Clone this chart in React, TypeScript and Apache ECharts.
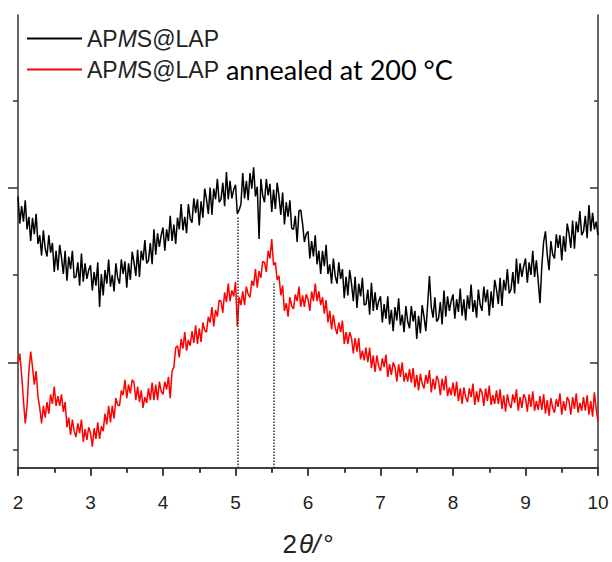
import React, { useEffect, useRef } from "react";
import * as echarts from "echarts";

// x sampling of the scans (2θ, degrees)
const X_START = 2;
const X_STEP = 0.025;

// APMS@LAP (intensity, a.u.), one row per 0.2°
const blackValues: number[] = [
  280, 252, 270, 254, 276, 246, 259, 234,
  258, 241, 262, 231, 240, 219, 245, 226,
  218, 240, 222, 232, 202, 224, 204, 230,
  217, 200, 224, 193, 218, 205, 224, 196,
  197, 212, 188, 221, 192, 211, 195, 204,
  209, 183, 202, 188, 212, 166, 200, 178,
  204, 190, 215, 187, 199, 182, 211, 196,
  190, 215, 200, 213, 186, 211, 194, 223,
  212, 198, 225, 197, 224, 214, 235, 211,
  214, 232, 210, 246, 220, 242, 228, 240,
  248, 224, 246, 234, 260, 234, 251, 231,
  258, 246, 272, 245, 259, 242, 272, 257,
  253, 278, 263, 277, 250, 275, 258, 288,
  277, 262, 289, 261, 288, 277, 298, 274,
  277, 294, 270, 305, 277, 296, 278, 287,
  292, 262, 266, 272, 304, 278, 296, 276,
  304, 288, 310, 280, 290, 236, 298, 281,
  274, 298, 281, 293, 264, 287, 267, 294,
  280, 261, 284, 251, 274, 259, 276, 247,
  246, 260, 233, 265, 266, 252, 233, 241,
  244, 216, 234, 218, 240, 210, 224, 200,
  224, 208, 230, 200, 210, 190, 216, 198,
  190, 212, 195, 205, 175, 197, 178, 204,
  190, 172, 197, 165, 190, 177, 196, 168,
  169, 184, 158, 191, 162, 181, 163, 172,
  177, 150, 169, 154, 177, 148, 163, 141,
  166, 152, 175, 147, 158, 140, 167, 151,
  144, 167, 151, 162, 133, 157, 139, 168,
  156, 141, 168, 198, 166, 155, 176, 151,
  154, 171, 148, 183, 156, 177, 162, 172,
  179, 154, 174, 161, 185, 157, 174, 152,
  178, 164, 189, 161, 173, 155, 184, 168,
  162, 187, 171, 184, 157, 182, 165, 194,
  184, 169, 196, 167, 194, 183, 205, 180,
  184, 202, 180, 216, 190, 211, 197, 208,
  216, 191, 212, 199, 224, 197, 214, 193,
  170, 208, 233, 244, 220, 204, 234, 220,
  216, 241, 227, 240, 214, 239, 223, 252,
  242, 227, 255, 226, 254, 243, 265, 240,
  244, 260, 237, 271, 244, 263, 246, 254,
  240,
];

// APMS@LAP annealed at 200 °C (intensity, a.u.), one row per 0.2°
const redValues: number[] = [
  108, 118, 96, 70, 46, 64, 100, 120,
  104, 86, 100, 74, 62, 46, 64, 52,
  68, 56, 76, 66, 84, 64, 74, 64,
  76, 58, 68, 42, 52, 34, 50, 38,
  32, 46, 36, 50, 27, 40, 29, 42,
  36, 22, 41, 30, 47, 30, 43, 38,
  56, 45, 64, 47, 64, 51, 72, 65,
  64, 80, 75, 91, 72, 86, 77, 91,
  88, 70, 84, 68, 80, 62, 73, 67,
  82, 70, 88, 70, 86, 70, 89, 79,
  76, 89, 81, 94, 72, 100, 104, 124,
  126, 114, 133, 123, 140, 121, 132, 126,
  141, 129, 147, 128, 144, 130, 150, 142,
  140, 156, 150, 166, 146, 163, 156, 173,
  172, 160, 181, 171, 190, 172, 183, 177,
  192, 146, 176, 168, 182, 168, 187, 179,
  176, 193, 188, 205, 186, 203, 196, 213,
  212, 202, 224, 216, 236, 209, 212, 194,
  198, 178, 188, 162, 170, 156, 176, 167,
  164, 179, 172, 187, 166, 178, 166, 179,
  174, 162, 182, 172, 190, 172, 182, 168,
  176, 159, 173, 150, 162, 143, 158, 145,
  138, 150, 140, 152, 128, 140, 128, 140,
  134, 118, 134, 120, 134, 112, 121, 111,
  124, 109, 124, 103, 116, 99, 116, 105,
  100, 113, 104, 117, 94, 107, 96, 109,
  104, 89, 107, 94, 109, 89, 98, 89,
  102, 88, 103, 83, 96, 80, 97, 87,
  82, 96, 87, 101, 78, 92, 81, 95,
  90, 75, 92, 80, 95, 74, 83, 75,
  88, 74, 89, 69, 82, 66, 83, 73,
  68, 82, 73, 87, 65, 79, 68, 82,
  78, 64, 82, 69, 85, 65, 75, 66,
  80, 66, 81, 61, 75, 58, 76, 66,
  62, 76, 67, 81, 59, 73, 62, 76,
  72, 58, 76, 63, 79, 59, 69, 60,
  74, 60, 76, 56, 70, 54, 72, 62,
  57, 71, 63, 77, 55, 69, 59, 73,
  69, 55, 73, 61, 77, 57, 67, 59,
  73, 59, 75, 55, 69, 53, 78, 61,
  48,
];

// dotted reference lines: [2θ, top of the line]
const refLines: [number, number][] = [
  [5.035, 259],
  [5.53, 192],
];

const xTicks = [2, 3, 4, 5, 6, 7, 8, 9, 10];
const yLongTicks = [109, 289];
const yShortTicks = [19, 199, 379];

const NAME_BLACK = "APMS@LAP";
const NAME_RED = "APMS@LAP annealed at 200 °C";

const toPairs = (vals: number[]) =>
  vals.map((v, i) => [+(X_START + i * X_STEP).toFixed(3), v]);

const AXIS_COLOR = "#333";

export default function App() {
  const ref = useRef<HTMLDivElement>(null);

  useEffect(() => {
    if (!ref.current) return;
    const chart = echarts.init(ref.current, undefined, { renderer: "svg" });
    const axisLine = { show: true, lineStyle: { color: AXIS_COLOR, width: 1.5 } };
    const tickStyle = { color: AXIS_COLOR, width: 1.5 };
    const baseX = {
      type: "value" as const,
      min: xTicks[0],
      max: xTicks[xTicks.length - 1],
      interval: 1,
      splitLine: { show: false },
      minorSplitLine: { show: false },
    };
    const baseY = {
      type: "value" as const,
      min: 0,
      max: 467,
      splitLine: { show: false },
      axisLabel: { show: false },
    };
    chart.setOption({
      animation: false,
      backgroundColor: "#fff",
      grid: { left: 18, right: 14, top: 15, bottom: 80 },
      legend: {
        orient: "vertical",
        left: 22,
        top: 22,
        icon: "rect",
        itemWidth: 55,
        itemHeight: 2,
        itemGap: 6,
        data: [NAME_BLACK, NAME_RED],
        formatter: (name: string) =>
          name === NAME_BLACK
            ? "{a|AP}{i|M}{a|S@LAP}"
            : "{a|AP}{i|M}{a|S@LAP}{b| annealed at 200 °C}",
        textStyle: {
          rich: {
            a: { fontFamily: "Liberation Sans", fontSize: 23, color: "#222", lineHeight: 32 },
            i: { fontFamily: "Liberation Sans", fontSize: 23, color: "#222", fontStyle: "italic", lineHeight: 32 },
            b: { fontFamily: "Lato", fontSize: 27, color: "#000", lineHeight: 32 },
          },
        },
      },
      xAxis: [
        {
          ...baseX,
          position: "bottom",
          axisLine,
          axisTick: { show: true, inside: false, length: 7, lineStyle: tickStyle },
          minorTick: { show: true, splitNumber: 2, length: 4, lineStyle: tickStyle },
          axisLabel: {
            fontFamily: "Liberation Sans",
            fontSize: 19,
            color: "#222",
            margin: 25,
          },
          name: "{n|2}{i|θ/}{n|°}",
          nameLocation: "middle",
          nameGap: 63,
          nameTextStyle: {
            rich: {
              n: { fontFamily: "Liberation Sans", fontSize: 26, color: "#222" },
              i: { fontFamily: "Liberation Sans", fontSize: 26, color: "#222", fontStyle: "italic", padding: [0, 3, 0, 2] },
            },
          },
        },
        {
          ...baseX,
          position: "top",
          axisLine,
          axisTick: { show: true, inside: true, length: 8, lineStyle: tickStyle },
          minorTick: { show: true, splitNumber: 2, length: 5, lineStyle: tickStyle },
          axisLabel: { show: false },
        },
      ],
      yAxis: [
        {
          ...baseY,
          position: "left",
          axisLine,
          axisTick: { show: true, inside: false, length: 10, customValues: yLongTicks, lineStyle: tickStyle },
        },
        {
          ...baseY,
          position: "left",
          axisLine: { show: false },
          axisTick: { show: true, inside: false, length: 5, customValues: yShortTicks, lineStyle: tickStyle },
        },
        {
          ...baseY,
          position: "right",
          axisLine,
          axisTick: { show: true, inside: true, length: 8, customValues: yLongTicks, lineStyle: tickStyle },
        },
        {
          ...baseY,
          position: "right",
          axisLine: { show: false },
          axisTick: { show: true, inside: true, length: 4, customValues: yShortTicks, lineStyle: tickStyle },
        },
      ],
      series: [
        {
          name: NAME_BLACK,
          type: "line",
          xAxisIndex: 0,
          yAxisIndex: 0,
          data: toPairs(blackValues),
          symbol: "none",
          lineStyle: { color: "#000", width: 1.5 },
          itemStyle: { color: "#000" },
          markLine: {
            silent: true,
            symbol: "none",
            label: { show: false },
            lineStyle: { color: "#333", type: "dotted", width: 1.5 },
            data: refLines.map(([x, top]) => [{ coord: [x, 0] }, { coord: [x, top] }]),
          },
        },
        {
          name: NAME_RED,
          type: "line",
          xAxisIndex: 0,
          yAxisIndex: 0,
          data: toPairs(redValues),
          symbol: "none",
          lineStyle: { color: "#ff0000", width: 1.5 },
          itemStyle: { color: "#ff0000" },
        },
      ],
    });
    return () => chart.dispose();
  }, []);

  return (
    <div
      ref={ref}
      style={{ position: "fixed", left: 0, top: 0, width: 612, height: 562 }}
    />
  );
}
